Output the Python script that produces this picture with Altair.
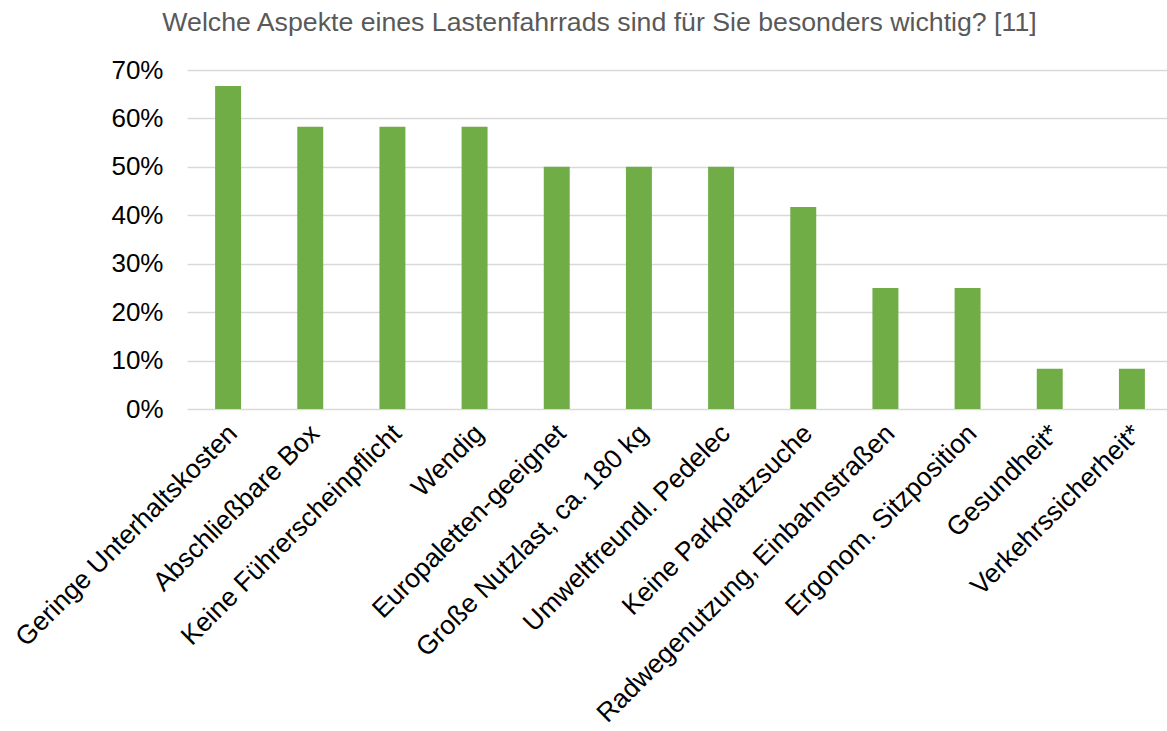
import altair as alt
import pandas as pd

categories = [
    "Geringe Unterhaltskosten",
    "Abschließbare Box",
    "Keine Führerscheinpflicht",
    "Wendig",
    "Europaletten-geeignet",
    "Große Nutzlast, ca. 180 kg",
    "Umweltfreundl. Pedelec",
    "Keine Parkplatzsuche",
    "Radwegenutzung, Einbahnstraßen",
    "Ergonom. Sitzposition",
    "Gesundheit*",
    "Verkehrssicherheit*",
]
values = [0.667, 0.583, 0.583, 0.583, 0.50, 0.50, 0.50, 0.417, 0.25, 0.25, 0.083, 0.083]

df = pd.DataFrame({"Aspekt": categories, "Anteil": values})

FONT = "Liberation Sans"

chart = (
    alt.Chart(df)
    .mark_bar(color="#70ad47")
    .encode(
        x=alt.X(
            "Aspekt:N",
            sort=categories,
            title=None,
            scale=alt.Scale(paddingInner=0.684, paddingOuter=0.342, range=[17, 1003]),
            axis=alt.Axis(
                labelAngle=-45,
                labelAlign="right",
                labelBaseline="middle",
                labelFontSize=26.5,
                labelColor="#000000",
                labelFont=FONT,
                labelPadding=20,
                labelOffset=5,
                labelLimit=500,
                labelOverlap=False,
                ticks=False,
                domain=False,
            ),
        ),
        y=alt.Y(
            "Anteil:Q",
            title=None,
            scale=alt.Scale(domain=[0, 0.7]),
            axis=alt.Axis(
                format=".0%",
                values=[0, 0.1, 0.2, 0.3, 0.4, 0.5, 0.6, 0.7],
                labelFontSize=26,
                labelColor="#000000",
                labelFont=FONT,
                labelPadding=7,
                ticks=False,
                domain=False,
                gridColor="#d9d9d9",
                gridWidth=1.5,
            ),
        ),
    )
    .properties(
        width=997,
        height=339,
        title=alt.TitleParams(
            "Welche Aspekte eines Lastenfahrrads sind für Sie besonders wichtig? [11]",
            font=FONT,
            fontSize=26.7,
            fontWeight="normal",
            color="#595959",
            anchor="middle",
            dx=-69,
            offset=20,
        ),
        autosize=alt.AutoSizeParams(type="none"),
        padding={"left": 170, "top": 70, "right": 0, "bottom": 322},
    )
    .configure_view(stroke=None)
)

chart.save("out.html", embed_options={"renderer": "svg", "actions": False})
